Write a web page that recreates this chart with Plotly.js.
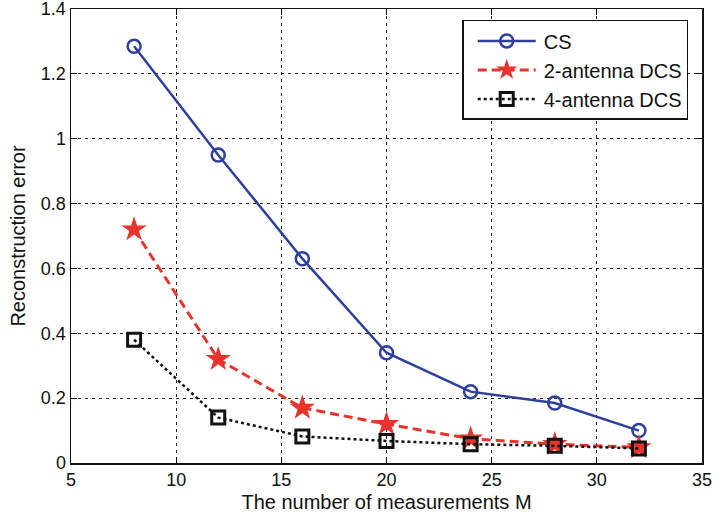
<!DOCTYPE html>
<html>
<head>
<meta charset="utf-8">
<script src="https://cdn.plot.ly/plotly-3.0.1.min.js"></script>
<style>html,body{margin:0;padding:0;background:#fff;}#chart{width:713px;height:521px;}</style>
</head>
<body>
<div id="chart"></div>
<script>
const measurements = [8, 12, 16, 20, 24, 28, 32];
const csError = [1.285, 0.95, 0.63, 0.34, 0.22, 0.185, 0.10];
const dcs2Error = [0.72, 0.32, 0.17, 0.12, 0.075, 0.058, 0.048];
const dcs4Error = [0.38, 0.14, 0.082, 0.068, 0.058, 0.053, 0.045];
const xTicks = [5, 10, 15, 20, 25, 30, 35];
const yTicks = [0, 0.2, 0.4, 0.6, 0.8, 1, 1.2, 1.4];
const yTickText = ['0', '0.2', '0.4', '0.6', '0.8', '1', '1.2', '1.4'];

const traces = [
  {x: measurements, y: csError, name: 'CS', mode: 'lines+markers',
   line: {color: '#2e3f9c', width: 2.5, dash: 'solid'},
   marker: {symbol: 'circle-open', size: 13, color: '#2e3f9c', line: {width: 2.5, color: '#2e3f9c'}}},
  {x: measurements, y: dcs2Error, name: '2-antenna DCS', mode: 'lines+markers',
   line: {color: '#e8322b', width: 3, dash: '9px,5px'},
   marker: {symbol: 'star', size: 19, color: '#e8322b', line: {width: 0}}},
  {x: measurements, y: dcs4Error, name: '4-antenna DCS', mode: 'lines+markers',
   line: {color: '#111', width: 2.5, dash: 'dot'},
   marker: {symbol: 'square-open', size: 13, color: '#111', line: {width: 3, color: '#111'}}}
];

const font = {family: 'Liberation Sans, Arial, sans-serif', color: '#111'};
const layout = {
  width: 713, height: 521,
  margin: {l: 71, r: 11, t: 9, b: 58},
  paper_bgcolor: '#fff', plot_bgcolor: '#fff',
  font: Object.assign({size: 18}, font),
  showlegend: true,
  legend: {x: 0.62, y: 0.976, xanchor: 'left', yanchor: 'top',
           bordercolor: '#111', borderwidth: 1.5, bgcolor: '#fff',
           font: Object.assign({size: 20}, font), tracegroupgap: 0, itemwidth: 70},
  xaxis: {range: [5, 35], tickvals: xTicks, ticktext: xTicks.map(String),
          showgrid: true, gridcolor: '#222', griddash: '3px,4px', gridwidth: 1,
          zeroline: false, showline: true, linecolor: '#111', linewidth: 1.5, mirror: 'ticks',
          ticks: 'inside', ticklen: 6, tickcolor: '#111', ticklabeloverflow: 'allow',
          tickfont: Object.assign({size: 18}, font),
          title: {text: 'The number of measurements M', font: Object.assign({size: 20}, font), standoff: 6}},
  yaxis: {range: [0, 1.4], tickvals: yTicks, ticktext: yTickText,
          showgrid: true, gridcolor: '#222', griddash: '3px,4px', gridwidth: 1,
          zeroline: false, showline: true, linecolor: '#111', linewidth: 1.5, mirror: 'ticks',
          ticks: 'inside', ticklen: 6, tickcolor: '#111', ticklabeloverflow: 'allow',
          tickfont: Object.assign({size: 18}, font),
          title: {text: 'Reconstruction error', font: Object.assign({size: 20}, font), standoff: 10}}
};

function stretchLegend(gd) {
  gd.querySelectorAll('.legend .traces').forEach(function (g) {
    g.querySelectorAll('.legendlines path').forEach(function (p) {
      p.setAttribute('d', 'M14,0h58');
    });
    g.querySelectorAll('.legendpoints path').forEach(function (p) {
      p.setAttribute('transform', 'translate(43,0)');
    });
  });
}
const gd = document.getElementById('chart');
Plotly.newPlot(gd, traces, layout, {displayModeBar: false, staticPlot: true}).then(stretchLegend);
</script>
</body>
</html>
